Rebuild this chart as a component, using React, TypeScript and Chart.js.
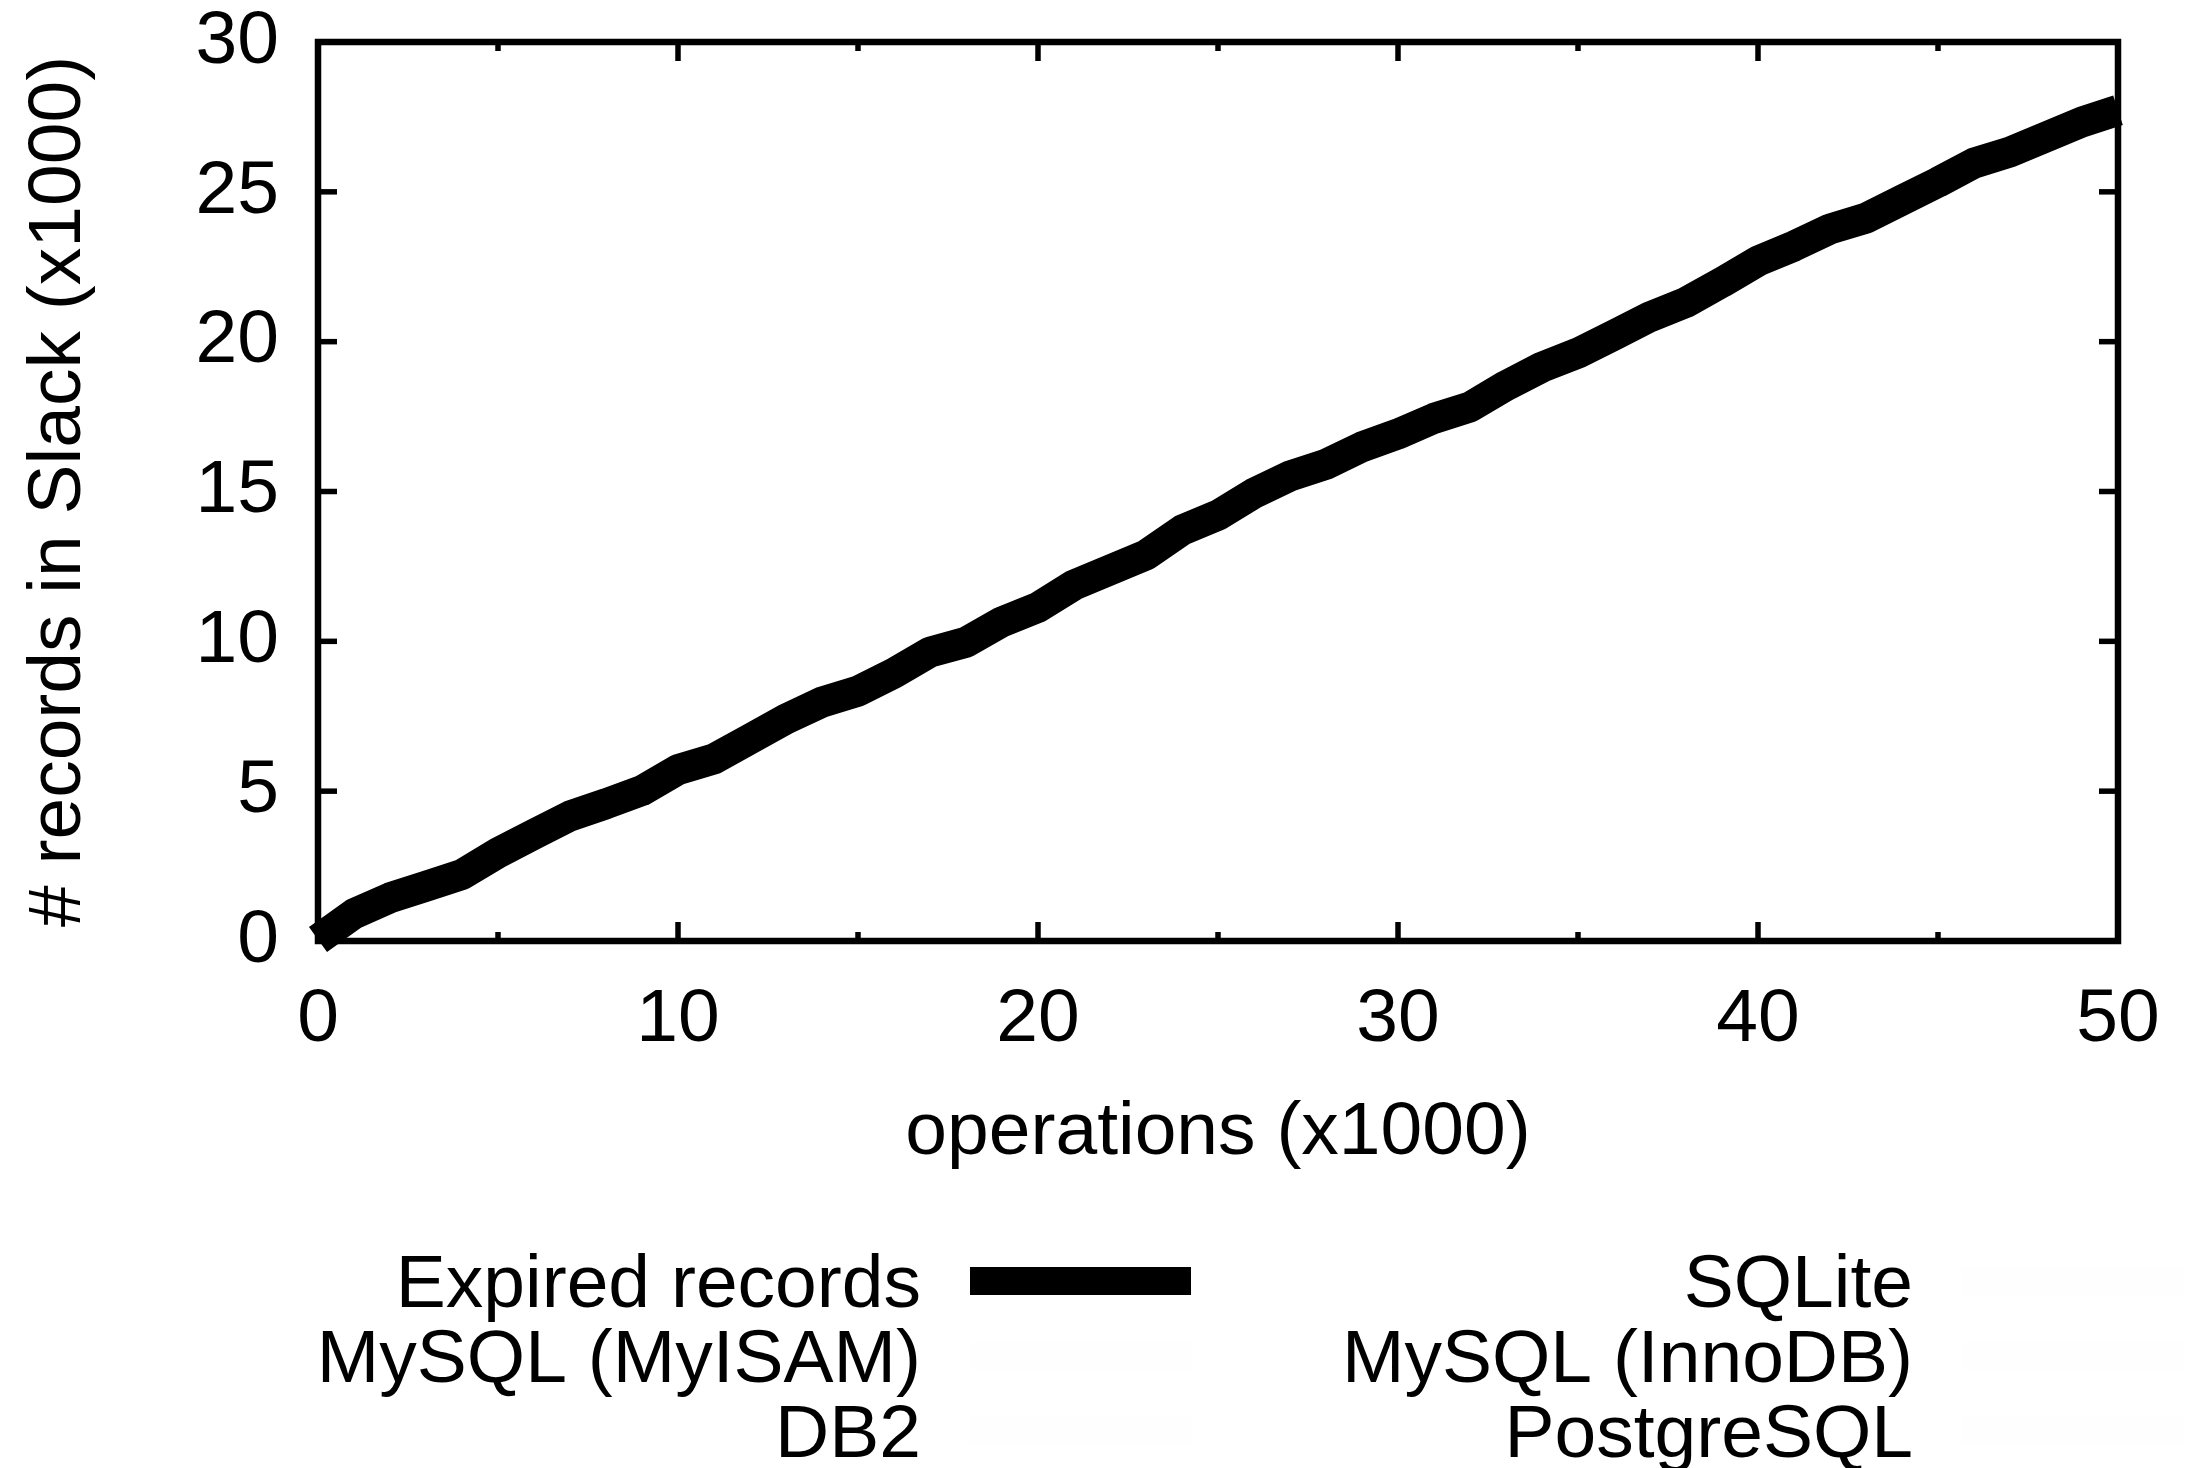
import React, { useEffect, useRef } from "react";
import { Chart, registerables } from "chart.js";

Chart.register(...registerables);

// operations (x1000)
const operations = [
  0, 1, 2, 3, 4, 5, 6, 7, 8, 9, 10, 11, 12, 13, 14, 15, 16, 17, 18, 19, 20,
  21, 22, 23, 24, 25, 26, 27, 28, 29, 30, 31, 32, 33, 34, 35, 36, 37, 38, 39,
  40, 41, 42, 43, 44, 45, 46, 47, 48, 49, 50,
];

// # records in Slack (x1000) - expired records
const expiredRecords = [
  0.05, 0.91, 1.44, 1.83, 2.22, 2.94, 3.56, 4.17, 4.58, 5.02, 5.72, 6.08, 6.74,
  7.41, 7.97, 8.34, 8.94, 9.64, 9.97, 10.65, 11.13, 11.88, 12.38, 12.88, 13.71,
  14.21, 14.94, 15.52, 15.91, 16.49, 16.92, 17.44, 17.82, 18.53, 19.15, 19.62,
  20.22, 20.83, 21.31, 21.98, 22.69, 23.19, 23.76, 24.12, 24.72, 25.32, 25.96,
  26.33, 26.83, 27.33, 27.72,
];

const seriesNames = [
  "Expired records",
  "SQLite",
  "MySQL (MyISAM)",
  "MySQL (InnoDB)",
  "DB2",
  "PostgreSQL",
];
const seriesColors = ["#000000", "#fdfefd", "#fdfefd", "#fdfefd", "#fdfefd", "#fdfefd"];

const xMajorTicks = [0, 10, 20, 30, 40, 50];
const xMinorTicks = [5, 15, 25, 35, 45];
const yMajorTicks = [0, 5, 10, 15, 20, 25, 30];

const xTitle = "operations (x1000)";
const yTitle = "# records in Slack (x1000)";

const FONT = "'Liberation Sans', Arial, Helvetica, sans-serif";
const FS = 75;

const frameAndTicks = {
  id: "frameAndTicks",
  afterDraw(chart: any) {
    const { ctx, chartArea, scales } = chart;
    const { left, right, top, bottom } = chartArea;
    const x = scales.x;
    const y = scales.y;
    ctx.save();
    ctx.strokeStyle = "#000";
    ctx.lineCap = "butt";
    ctx.lineWidth = 5.5;
    const major = 19;
    const minor = 9;
    const vline = (px: number, y0: number, y1: number) => {
      ctx.beginPath();
      ctx.moveTo(px, y0);
      ctx.lineTo(px, y1);
      ctx.stroke();
    };
    const hline = (py: number, x0: number, x1: number) => {
      ctx.beginPath();
      ctx.moveTo(x0, py);
      ctx.lineTo(x1, py);
      ctx.stroke();
    };
    xMajorTicks.forEach((v) => {
      const px = x.getPixelForValue(v);
      vline(px, bottom, bottom - major);
      vline(px, top, top + major);
    });
    xMinorTicks.forEach((v) => {
      const px = x.getPixelForValue(v);
      vline(px, bottom, bottom - minor);
      vline(px, top, top + minor);
    });
    yMajorTicks.forEach((v) => {
      const py = y.getPixelForValue(v);
      hline(py, left, left + major);
      hline(py, right, right - major);
    });
    ctx.lineWidth = 6.5;
    ctx.lineJoin = "miter";
    ctx.strokeRect(left, top, right - left, bottom - top);
    ctx.restore();
  },
};

const gnuplotLegend = {
  id: "gnuplotLegend",
  afterDraw(chart: any) {
    const { ctx } = chart;
    const textRight = [921, 1913];
    const sampleStart = [970, 1962];
    const sampleLen = 221;
    const firstBaseline = 1307;
    const rowStep = 75;
    ctx.save();
    ctx.font = `${FS}px ${FONT}`;
    ctx.textAlign = "right";
    ctx.textBaseline = "alphabetic";
    chart.data.datasets.forEach((ds: any, i: number) => {
      const col = i % 2;
      const row = Math.floor(i / 2);
      const base = firstBaseline + row * rowStep;
      ctx.fillStyle = "#000";
      ctx.fillText(ds.label, textRight[col], base);
      ctx.strokeStyle = ds.borderColor;
      ctx.lineWidth = 28;
      ctx.lineCap = "butt";
      ctx.beginPath();
      ctx.moveTo(sampleStart[col], base - 26);
      ctx.lineTo(sampleStart[col] + sampleLen, base - 26);
      ctx.stroke();
    });
    ctx.restore();
  },
};

const zeroPadding = (s: any) => {
  s.paddingTop = 0;
  s.paddingBottom = 0;
  s.paddingLeft = 0;
  s.paddingRight = 0;
};

export default function App() {
  const canvasRef = useRef<HTMLCanvasElement | null>(null);

  useEffect(() => {
    const canvas = canvasRef.current;
    if (!canvas) return;
    const datasets = seriesNames.map((name, i) => ({
      label: name,
      data:
        i === 0
          ? operations.map((op, j) => ({ x: op, y: expiredRecords[j] }))
          : [],
      borderColor: seriesColors[i],
      backgroundColor: seriesColors[i],
      borderWidth: 31,
      pointRadius: 0,
      tension: 0,
      borderJoinStyle: "round" as const,
      borderCapStyle: "butt" as const,
      clip: false as any,
    }));

    const chart = new Chart(canvas, {
      type: "line",
      data: { datasets },
      plugins: [frameAndTicks, gnuplotLegend],
      options: {
        responsive: false,
        animation: false,
        devicePixelRatio: 1,
        layout: {
          autoPadding: false,
          padding: { left: 0, top: 42, right: 72, bottom: 297 },
        },
        plugins: {
          legend: { display: false },
          tooltip: { enabled: false },
        },
        scales: {
          x: {
            type: "linear",
            position: "bottom",
            min: 0,
            max: 50,
            grid: { display: false, drawTicks: false },
            border: { display: false },
            ticks: {
              stepSize: 10,
              padding: 42,
              color: "#000",
              font: { family: FONT, size: FS, lineHeight: 1 },
              maxRotation: 0,
            },
            title: {
              display: true,
              text: xTitle,
              color: "#000",
              font: { family: FONT, size: FS, lineHeight: 1 },
              padding: { top: 0, bottom: 0 },
            },
            afterFit: (s: any) => {
              s.height = 230;
              zeroPadding(s);
            },
          },
          y: {
            type: "linear",
            min: 0,
            max: 30,
            grid: { display: false, drawTicks: false },
            border: { display: false },
            ticks: {
              stepSize: 5,
              padding: 39,
              color: "#000",
              font: { family: FONT, size: FS, lineHeight: 1 },
            },
            title: {
              display: true,
              text: yTitle,
              color: "#000",
              font: { family: FONT, size: FS, lineHeight: 1 },
              padding: { top: 22, bottom: 0 },
            },
            afterFit: (s: any) => {
              s.width = 318;
              zeroPadding(s);
            },
          },
        },
      },
    });
    return () => chart.destroy();
  }, []);

  return (
    <div
      style={{
        position: "fixed",
        left: 0,
        top: 0,
        width: 2190,
        height: 1468,
        background: "#fff",
      }}
    >
      <canvas ref={canvasRef} width={2190} height={1468} />
    </div>
  );
}
